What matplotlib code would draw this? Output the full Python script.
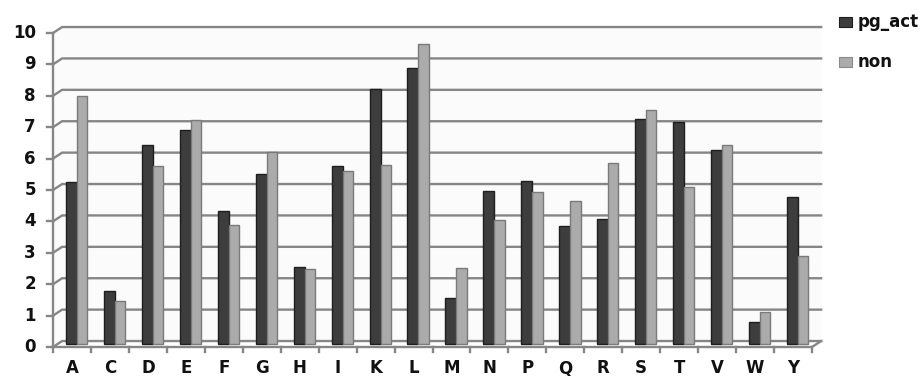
import matplotlib
matplotlib.use("Agg")
import matplotlib.pyplot as plt
from matplotlib.patches import Rectangle, Polygon

categories = ["A", "C", "D", "E", "F", "G", "H", "I", "K", "L",
              "M", "N", "P", "Q", "R", "S", "T", "V", "W", "Y"]
pg_act = [5.15, 1.67, 6.32, 6.80, 4.24, 5.41, 2.46, 5.67, 8.12, 8.78,
          1.45, 4.88, 5.18, 3.75, 3.98, 7.15, 7.06, 6.16, 0.71, 4.67]
non = [7.90, 1.38, 5.68, 7.13, 3.79, 6.11, 2.40, 5.49, 5.70, 9.55,
       2.43, 3.95, 4.83, 4.56, 5.77, 7.45, 5.01, 6.34, 1.00, 2.80]
series_names = ["pg_act", "non"]
y_ticks = list(range(0, 11))

W, H = 921, 376
fig = plt.figure(figsize=(W / 100, H / 100), dpi=100)
fig.patch.set_facecolor("white")
ax = fig.add_axes([0, 0, 1, 1])
ax.set_axis_off()

x0px, cw = 53.0, 37.95
y0px, uh = 347.0, 31.4
ax.set_xlim(-x0px / cw, (W - x0px) / cw)
ax.set_ylim((y0px - H) / uh, y0px / uh)

n = len(categories)
dx, dy = 0.24, 0.19
grid_c = "#868686"
font = dict(family="DejaVu Sans", weight="bold", color="#111111", fontsize=12)

ax.add_patch(Polygon([(0, 0), (dx, dy), (n + dx, dy), (n + dx, 10 + dy), (dx, 10 + dy), (0, 10)],
                     closed=True, facecolor="#fbfbfb", edgecolor="none", zorder=0))

for k in y_ticks:
    ax.plot([0, dx, n + dx], [k, k + dy, k + dy], color=grid_c, lw=1.7, zorder=1,
            solid_joinstyle="miter")
    ax.plot([-0.16, 0], [k, k], color=grid_c, lw=1.7, zorder=1)
    ax.text(-0.45, k, str(k), ha="right", va="center", **font)

ax.plot([0, n, n + dx], [0, 0, dy], color=grid_c, lw=1.7, zorder=1)
ax.plot([0, 0], [0, 10], color=grid_c, lw=1.7, zorder=1)
for i in range(n + 1):
    ax.plot([i, i], [0, -0.17], color=grid_c, lw=1.7, zorder=1)

bw_d, bw_l = 0.29, 0.27
base = 0.1
for i, cat in enumerate(categories):
    ax.add_patch(Rectangle((i + 0.34, base), bw_d, pg_act[i], facecolor="#3d3d3d",
                           edgecolor="#1e1e1e", lw=1.0, zorder=3))
    ax.add_patch(Rectangle((i + 0.63, base), bw_l, non[i], facecolor="#ababab",
                           edgecolor="#7a7a7a", lw=1.0, zorder=3))
    ax.text(i + 0.5, -0.67, cat, ha="center", va="center", **font)

leg_x = (839 - x0px) / cw
for j, (name, fc, ec) in enumerate(zip(series_names, ["#3d3d3d", "#ababab"], ["#1e1e1e", "#8a8a8a"])):
    yc = (y0px - (22 + 40 * j)) / uh
    ax.add_patch(Rectangle((leg_x, yc - 0.16), 0.33, 0.32, facecolor=fc, edgecolor=ec,
                           lw=0.8, zorder=3))
    ax.text(leg_x + 0.48, yc, name, ha="left", va="center", **font)

fig.savefig("out.png", dpi=100, facecolor="white")
